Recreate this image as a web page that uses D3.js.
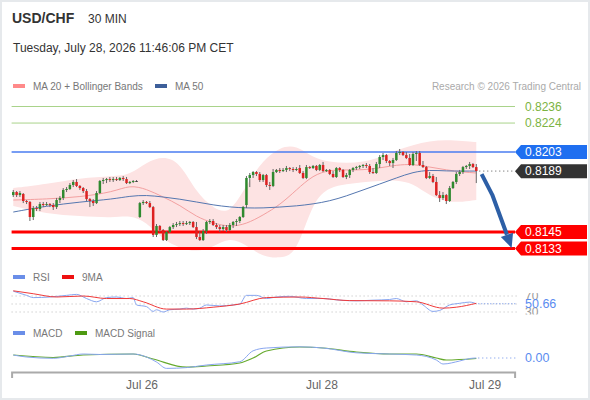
<!DOCTYPE html>
<html>
<head>
<meta charset="utf-8">
<script src="https://cdn.jsdelivr.net/npm/d3@7"></script>
<style>
  body { margin: 0; background: #fff; }
  svg { display: block; font-family: "Liberation Sans", Arial, sans-serif; }
</style>
</head>
<body>
<div id="chart"></div>
<script>
// header texts
const pair = "USD/CHF"
const timeframe = "30 MIN"
const stamp = "Tuesday, July 28, 2026 11:46:06 PM CET"
const credit = "Research \u00a9 2026 Trading Central"

// 30 min candles, index 0..139
const opens = [0.81718,0.81740,0.81718,0.81726,0.81675,0.81668,0.81559,0.81624,0.81617,0.81653,
  0.81646,0.81653,0.81646,0.81631,0.81682,0.81697,0.81755,0.81762,0.81791,0.81813,
  0.81784,0.81769,0.81747,0.81689,0.81675,0.81660,0.81733,0.81820,0.81827,0.81834,
  0.81827,0.81834,0.81827,0.81842,0.81834,0.81805,0.81813,0.81820,0.81559,0.81660,
  0.81668,0.81660,0.81631,0.81429,0.81494,0.81465,0.81392,0.81450,0.81486,0.81501,
  0.81508,0.81515,0.81508,0.81515,0.81523,0.81486,0.81414,0.81392,0.81457,0.81523,
  0.81530,0.81501,0.81486,0.81472,0.81486,0.81465,0.81501,0.81523,0.81530,0.81559,
  0.81646,0.81842,0.81863,0.81885,0.81871,0.81827,0.81863,0.81791,0.81784,0.81885,
  0.81900,0.81892,0.81900,0.81914,0.81907,0.81900,0.81914,0.81878,0.81842,0.81921,
  0.81914,0.81929,0.81900,0.81936,0.81892,0.81900,0.81871,0.81849,0.81914,0.81900,
  0.81849,0.81863,0.81900,0.81914,0.81921,0.81929,0.81936,0.81929,0.81885,0.81878,
  0.81943,0.81994,0.82008,0.81965,0.81950,0.81972,0.82023,0.82030,0.82008,0.81987,
  0.81936,0.82016,0.82023,0.81936,0.81921,0.81842,0.81856,0.81813,0.81718,0.81697,
  0.81718,0.81675,0.81769,0.81813,0.81871,0.81885,0.81921,0.81929,0.81943,0.81921]
const highs = [0.81755,0.81747,0.81747,0.81733,0.81682,0.81675,0.81639,0.81639,0.81668,0.81668,
  0.81668,0.81660,0.81660,0.81697,0.81711,0.81769,0.81776,0.81805,0.81827,0.81834,
  0.81791,0.81776,0.81762,0.81697,0.81689,0.81747,0.81827,0.81842,0.81842,0.81849,
  0.81849,0.81849,0.81849,0.81856,0.81849,0.81820,0.81827,0.81827,0.81668,0.81682,
  0.81675,0.81675,0.81639,0.81508,0.81501,0.81472,0.81457,0.81494,0.81515,0.81523,
  0.81530,0.81530,0.81530,0.81530,0.81530,0.81523,0.81457,0.81472,0.81530,0.81544,
  0.81544,0.81515,0.81501,0.81501,0.81501,0.81515,0.81530,0.81544,0.81566,0.81639,
  0.81856,0.81878,0.81892,0.81892,0.81885,0.81871,0.81871,0.81813,0.81907,0.81907,
  0.81914,0.81914,0.81929,0.81921,0.81921,0.81921,0.81936,0.81892,0.81936,0.81929,
  0.81936,0.81936,0.81943,0.81958,0.81907,0.81907,0.81892,0.81921,0.81921,0.81907,
  0.81878,0.81907,0.81921,0.81929,0.81936,0.81943,0.81950,0.81943,0.81914,0.81958,
  0.82008,0.82023,0.82016,0.81972,0.81987,0.82037,0.82052,0.82037,0.82030,0.82016,
  0.82030,0.82037,0.82037,0.81965,0.81929,0.81885,0.81871,0.81849,0.81747,0.81740,
  0.81726,0.81784,0.81820,0.81885,0.81900,0.81929,0.81936,0.81958,0.81950,0.81943]
const lows = [0.81704,0.81704,0.81704,0.81660,0.81653,0.81530,0.81537,0.81602,0.81602,0.81631,
  0.81639,0.81631,0.81610,0.81617,0.81660,0.81682,0.81740,0.81755,0.81776,0.81776,
  0.81755,0.81733,0.81675,0.81631,0.81639,0.81653,0.81726,0.81798,0.81805,0.81813,
  0.81813,0.81820,0.81820,0.81820,0.81798,0.81798,0.81805,0.81813,0.81552,0.81646,
  0.81653,0.81624,0.81414,0.81414,0.81450,0.81385,0.81385,0.81443,0.81472,0.81486,
  0.81494,0.81494,0.81501,0.81501,0.81479,0.81399,0.81385,0.81385,0.81436,0.81508,
  0.81494,0.81472,0.81450,0.81457,0.81450,0.81457,0.81479,0.81494,0.81515,0.81552,
  0.81624,0.81776,0.81842,0.81856,0.81813,0.81813,0.81776,0.81755,0.81776,0.81878,
  0.81878,0.81885,0.81885,0.81892,0.81885,0.81892,0.81871,0.81834,0.81834,0.81907,
  0.81907,0.81892,0.81892,0.81885,0.81885,0.81863,0.81842,0.81842,0.81885,0.81842,
  0.81834,0.81842,0.81885,0.81900,0.81907,0.81914,0.81914,0.81871,0.81871,0.81871,
  0.81914,0.81972,0.81950,0.81929,0.81914,0.81965,0.82008,0.82001,0.81979,0.81929,
  0.81929,0.81965,0.81929,0.81914,0.81834,0.81834,0.81805,0.81711,0.81668,0.81682,
  0.81653,0.81668,0.81762,0.81798,0.81856,0.81871,0.81907,0.81907,0.81914,0.81805]
const closes = [0.81740,0.81718,0.81733,0.81675,0.81668,0.81559,0.81624,0.81617,0.81653,0.81646,
  0.81653,0.81646,0.81631,0.81682,0.81697,0.81755,0.81762,0.81791,0.81813,0.81784,
  0.81769,0.81747,0.81689,0.81675,0.81660,0.81733,0.81820,0.81827,0.81834,0.81827,
  0.81834,0.81827,0.81842,0.81834,0.81805,0.81813,0.81820,0.81820,0.81660,0.81668,
  0.81660,0.81631,0.81429,0.81494,0.81465,0.81392,0.81450,0.81486,0.81501,0.81508,
  0.81515,0.81508,0.81515,0.81523,0.81486,0.81414,0.81392,0.81457,0.81523,0.81530,
  0.81501,0.81486,0.81472,0.81486,0.81465,0.81501,0.81523,0.81530,0.81559,0.81631,
  0.81842,0.81863,0.81885,0.81871,0.81827,0.81863,0.81791,0.81784,0.81885,0.81900,
  0.81892,0.81900,0.81914,0.81907,0.81900,0.81907,0.81878,0.81842,0.81921,0.81914,
  0.81929,0.81900,0.81936,0.81892,0.81900,0.81871,0.81849,0.81914,0.81900,0.81849,
  0.81863,0.81900,0.81914,0.81921,0.81929,0.81936,0.81929,0.81885,0.81878,0.81943,
  0.81994,0.82008,0.81965,0.81950,0.81972,0.82023,0.82030,0.82008,0.81987,0.81936,
  0.82016,0.82023,0.81936,0.81921,0.81842,0.81856,0.81813,0.81718,0.81697,0.81718,
  0.81675,0.81769,0.81813,0.81871,0.81885,0.81921,0.81929,0.81943,0.81921,0.81892]

// MA 20, Bollinger bands and MA 50 read at these candle indices
const bandIdx = [0,10,20,30,35,40,45,50,55,60,65,70,75,80,85,90,95,100,105,110,115,120,125,130,135,139]
const bbUpper = [0.81769,0.81798,0.81842,0.81856,0.81863,0.81958,0.82001,0.81958,0.81733,0.81624,0.81573,0.81791,0.81972,
  0.82066,0.82081,0.81987,0.81958,0.81950,0.81958,0.81987,0.82044,0.82081,0.82110,0.82117,0.82110,0.82102]
const bbLower = [0.81639,0.81581,0.81566,0.81552,0.81573,0.81523,0.81392,0.81334,0.81305,0.81342,0.81414,0.81356,0.81269,
  0.81262,0.81284,0.81682,0.81776,0.81798,0.81813,0.81820,0.81827,0.81805,0.81711,0.81668,0.81668,0.81682]
const ma20 = [0.81682,0.81689,0.81704,0.81740,0.81791,0.81762,0.81704,0.81646,0.81559,0.81515,0.81486,0.81508,0.81573,
  0.81646,0.81755,0.81863,0.81900,0.81900,0.81900,0.81914,0.81936,0.81943,0.81921,0.81900,0.81885,0.81878]
const ma50 = [0.81595,0.81639,0.81668,0.81689,0.81711,0.81718,0.81704,0.81689,0.81668,0.81646,0.81631,0.81624,0.81624,
  0.81631,0.81639,0.81653,0.81675,0.81711,0.81755,0.81798,0.81842,0.81885,0.81900,0.81892,0.81892,0.81892]

// key levels
const levelVals = [0.8236, 0.8224, 0.8203, 0.8189, 0.8145, 0.8133]
const levelKinds = ["res2", "res1", "pivot", "last", "sup1", "sup2"]

// expected path arrow (candle index, price)
const arrowIdx = [140.6, 143.8, 148.2, 149.6]
const arrowPrice = [0.81870, 0.81720, 0.81430, 0.81335]

// RSI and its 9 period average
const rsiIdx = [0,4,6,11,16,19,22,25,28,31,34,36,37,40,42,43,45,47,50,52,54,56,58,62,66,68,70,73,76,79,83,88,93,98,103,108,113,115,118,121,123,126,128,131,134,137,139]
const rsiVals = [82,71.6,66,67.5,71.6,74,63.7,55.5,66,67.5,63.7,66,47.6,43.5,31.5,35.6,30,35.6,37.3,39.7,37.3,39.7,47.6,45.2,47.6,50,71.6,71.6,63.7,67.5,69.2,63.7,63.7,59.6,57.9,59.6,61.3,63.7,55.5,57.9,47.6,31.5,33.9,47.6,51.7,54.8,50.66]
const rsiMaIdx = [0,6,13,21,28,35,39,46,52,60,68,76,86,93,101,113,121,129,133,139]
const rsiMaVals = [83,75.7,67.5,70,63.7,63.7,55.5,37.3,37.3,42,50,66,67.5,63.7,58.5,57.9,55.5,39.7,42,51.7]
const rsiLevels = [70, 50, 30]
const rsiLast = 50.66

// MACD and signal
const macdIdx = [0,4,12,17,21,26,36,40,43,46,52,58,68,72,76,86,93,103,113,121,127,129,134,137,139]
const macdVals = [0.000075,0.000025,-0.000008,0.00005,0.0001,0.000088,0.0001,0.000025,-0.0001,-0.00026,-0.00024,-0.000175,-0.000093,0.00018,0.00025,0.00028,0.00025,0.00013,0.0001,0.000075,-0.00005,-0.00015,-0.000075,-0.000013,0]
const sigIdx = [0,12,21,36,42,52,58,68,72,76,86,93,103,113,121,127,130,139]
const sigVals = [0.000075,0.000013,0.000075,0.0001,-0.000025,-0.00023,-0.0002,-0.000125,0,0.000175,0.000275,0.00025,0.00015,0.0001,0.0001,0,-0.00005,-0.000013]

// day ticks
const dayTicks = [38.5, 92.5, 141.5]
const dayLabels = ["Jul 26", "Jul 28", "Jul 29"]

const width = 590
const height = 400

const svg = d3.select("#chart").append("svg")
    .attr("width", width)
    .attr("height", height)

svg.append("rect")
    .attr("x", 1).attr("y", 1)
    .attr("width", width - 2).attr("height", height - 2)
    .attr("fill", "#fff")
    .attr("stroke", "#e6e9ec")
    .attr("stroke-width", 2)

// scales
const x = d3.scaleLinear().domain([-0.5, 150.5]).range([11.6, 514.6])
const y = d3.scaleLinear().domain([0.8133, 0.8236]).range([248.6, 106.5])
const yRsi = d3.scaleLinear().domain([30, 70]).range([312, 296])
const yMacd = d3.scaleLinear().domain([-0.0003, 0.0003]).range([370, 346])

// header
svg.append("text").attr("x", 12).attr("y", 23)
    .attr("font-size", 14).attr("font-weight", "bold").attr("fill", "#333")
    .text(pair)
svg.append("text").attr("x", 88).attr("y", 23)
    .attr("font-size", 12).attr("fill", "#333")
    .text(timeframe)
svg.append("text").attr("x", 13).attr("y", 52)
    .attr("font-size", 12).attr("fill", "#333")
    .text(stamp)

// legends
function legend(items, ly) {
    items.forEach(it => {
        svg.append("rect").attr("x", it.x).attr("y", ly - 2)
            .attr("width", 12).attr("height", 4).attr("fill", it.color)
        svg.append("text").attr("x", it.x + 20).attr("y", ly + 3.5)
            .attr("font-size", 10).attr("fill", "#777").text(it.label)
    })
}
legend([{x: 13, color: "#ff8a8a", label: "MA 20 + Bollinger Bands"},
        {x: 155, color: "#3d5f9a", label: "MA 50"}], 86)
svg.append("text").attr("x", 581).attr("y", 89.5)
    .attr("text-anchor", "end").attr("font-size", 10).attr("fill", "#aaa")
    .text(credit)

// bands and averages
const bandData = bandIdx.map((i, k) => ({i, up: bbUpper[k], lo: bbLower[k], m20: ma20[k], m50: ma50[k]}))
svg.append("path").datum(bandData)
    .attr("fill", "#fde3e3")
    .attr("d", d3.area().x(d => x(d.i)).y0(d => y(d.lo)).y1(d => y(d.up)).curve(d3.curveBasis))
svg.append("path").datum(bandData)
    .attr("fill", "none").attr("stroke", "#f3a0a0").attr("stroke-width", 1)
    .attr("d", d3.line().x(d => x(d.i)).y(d => y(d.m20)).curve(d3.curveBasis))
svg.append("path").datum(bandData)
    .attr("fill", "none").attr("stroke", "#5577b0").attr("stroke-width", 1)
    .attr("d", d3.line().x(d => x(d.i)).y(d => y(d.m50)).curve(d3.curveBasis))

// level lines
const levels = levelVals.map((v, k) => ({v, kind: levelKinds[k]}))
const lineStyle = {
    res2: {stroke: "#a9d38a", w: 1}, res1: {stroke: "#a9d38a", w: 1},
    pivot: {stroke: "#4a7df0", w: 1.5},
    sup1: {stroke: "#ff0000", w: 3}, sup2: {stroke: "#ff0000", w: 3}
}
levels.filter(d => d.kind !== "last").forEach(d => {
    svg.append("line")
        .attr("x1", 11.6).attr("x2", 515)
        .attr("y1", y(d.v)).attr("y2", y(d.v))
        .attr("stroke", lineStyle[d.kind].stroke)
        .attr("stroke-width", lineStyle[d.kind].w)
})

// candles
const candles = closes.map((c, i) => ({i, o: opens[i], h: highs[i], l: lows[i], c}))
const cg = svg.append("g")
cg.selectAll("line").data(candles).join("line")
    .attr("x1", d => x(d.i)).attr("x2", d => x(d.i))
    .attr("y1", d => y(d.h)).attr("y2", d => y(d.l))
    .attr("stroke", "#666").attr("stroke-width", 1)
cg.selectAll("rect").data(candles).join("rect")
    .attr("x", d => x(d.i) - 1.25).attr("width", 2.5)
    .attr("y", d => y(Math.max(d.o, d.c)))
    .attr("height", d => Math.max(1, Math.abs(y(d.o) - y(d.c))))
    .attr("fill", d => d.c > d.o ? "#2f8a2f" : (d.c < d.o ? "#dd2222" : "#444"))

// last price dotted line
const lastClose = closes[closes.length - 1]
svg.append("line")
    .attr("x1", x(closes.length - 1) + 3).attr("x2", 515)
    .attr("y1", y(lastClose)).attr("y2", y(lastClose))
    .attr("stroke", "#555").attr("stroke-dasharray", "1,3")

// arrow
const ap = arrowIdx.map((i, k) => [x(i), y(arrowPrice[k])])
const tip = ap[ap.length - 1]
const base = ap[ap.length - 2]
const dx = tip[0] - base[0], dy = tip[1] - base[1]
const len = Math.hypot(dx, dy)
const ux = dx / len, uy = dy / len
const hw = 6.5
svg.append("path")
    .attr("d", d3.line()(ap.slice(0, -1)))
    .attr("fill", "none").attr("stroke", "#2d5fa6")
    .attr("stroke-width", 4).attr("stroke-linejoin", "round")
svg.append("path")
    .attr("d", d3.line()([[base[0] + uy * hw, base[1] - ux * hw], tip, [base[0] - uy * hw, base[1] + ux * hw]]) + "Z")
    .attr("fill", "#2d5fa6")

// level tags
const tagFill = {pivot: "#1f6ff0", last: "#333333", sup1: "#ff0000", sup2: "#ff0000"}
levels.forEach(d => {
    const cy = y(d.v)
    if (d.kind === "res1" || d.kind === "res2") {
        svg.append("text").attr("x", 525).attr("y", cy)
            .attr("dominant-baseline", "central")
            .attr("font-size", 12).attr("fill", "#7cb342")
            .text(d3.format(".4f")(d.v))
    } else {
        svg.append("path")
            .attr("d", `M515,${cy} L521,${cy - 7} L587,${cy - 7} L587,${cy + 7} L521,${cy + 7} Z`)
            .attr("fill", tagFill[d.kind])
        svg.append("text").attr("x", 525).attr("y", cy)
            .attr("dominant-baseline", "central")
            .attr("font-size", 12).attr("fill", "#fff")
            .text(d3.format(".4f")(d.v))
    }
})

// RSI panel
legend([{x: 13, color: "#6a8ee8", label: "RSI"},
        {x: 62, color: "#ee1111", label: "9MA"}], 277)
rsiLevels.forEach(v => {
    svg.append("line").attr("x1", 11.6).attr("x2", 517)
        .attr("y1", yRsi(v)).attr("y2", yRsi(v))
        .attr("stroke", "#bbb").attr("stroke-dasharray", "1,3")
})
svg.append("defs").append("clipPath").attr("id", "rsiClip")
    .append("rect").attr("x", 0).attr("y", 293).attr("width", width).attr("height", 21.5)
const rsiLbl = svg.append("g").attr("clip-path", "url(#rsiClip)")
rsiLevels.filter(v => v !== 50).forEach(v => {
    rsiLbl.append("text").attr("x", 525).attr("y", yRsi(v))
        .attr("dominant-baseline", "central")
        .attr("font-size", 12).attr("fill", "#999").text(v)
})
rsiLbl.append("text").attr("x", 525).attr("y", yRsi(rsiLast))
    .attr("dominant-baseline", "central")
    .attr("font-size", 12.5).attr("fill", "#5b8cf0").text(rsiLast.toFixed(2))
svg.append("line")
    .attr("x1", x(139) + 2).attr("x2", 517)
    .attr("y1", yRsi(rsiLast)).attr("y2", yRsi(rsiLast))
    .attr("stroke", "#6a8ee8").attr("stroke-dasharray", "1,2")
svg.append("path").datum(rsiIdx.map((i, k) => [x(i), yRsi(rsiVals[k])]))
    .attr("fill", "none").attr("stroke", "#88a6f0").attr("stroke-width", 1)
    .attr("d", d3.line().curve(d3.curveMonotoneX))
svg.append("path").datum(rsiMaIdx.map((i, k) => [x(i), yRsi(rsiMaVals[k])]))
    .attr("fill", "none").attr("stroke", "#f03a3a").attr("stroke-width", 1)
    .attr("d", d3.line().curve(d3.curveMonotoneX))

// MACD panel
legend([{x: 13, color: "#6a8ee8", label: "MACD"},
        {x: 75, color: "#4e9a12", label: "MACD Signal"}], 333)
svg.append("path").datum(sigIdx.map((i, k) => [x(i), yMacd(sigVals[k])]))
    .attr("fill", "none").attr("stroke", "#66aa2e").attr("stroke-width", 1.2)
    .attr("d", d3.line().curve(d3.curveMonotoneX))
svg.append("path").datum(macdIdx.map((i, k) => [x(i), yMacd(macdVals[k])]))
    .attr("fill", "none").attr("stroke", "#88a6f0").attr("stroke-width", 1)
    .attr("d", d3.line().curve(d3.curveMonotoneX))
svg.append("line")
    .attr("x1", x(139) + 2).attr("x2", 517)
    .attr("y1", yMacd(0)).attr("y2", yMacd(0))
    .attr("stroke", "#6a8ee8").attr("stroke-dasharray", "1,3")
svg.append("text").attr("x", 525).attr("y", yMacd(0))
    .attr("dominant-baseline", "central")
    .attr("font-size", 12.5).attr("fill", "#5b8cf0").text("0.00")

// x axis
const xAxis = d3.axisBottom(x)
    .tickValues(dayTicks)
    .tickFormat((d, k) => dayLabels[k])
    .tickSizeInner(0).tickSizeOuter(6).tickPadding(8)
const xAxisGroup = svg.append("g").attr("transform", "translate(0,372)").call(xAxis)
xAxisGroup.select(".domain").attr("stroke", "#aaa").attr("stroke-width", 2)
xAxisGroup.selectAll("text").attr("font-size", 12).attr("fill", "#666")
    .attr("font-family", "Liberation Sans, Arial, sans-serif")
</script>
</body>
</html>
